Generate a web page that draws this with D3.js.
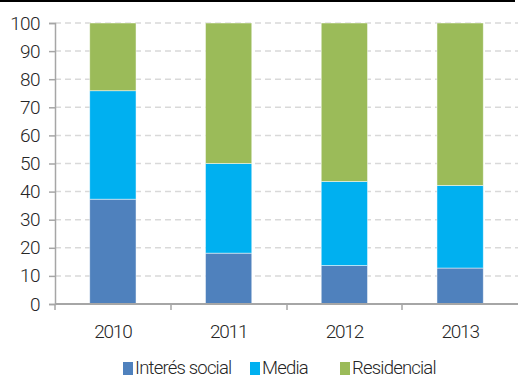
<!DOCTYPE html>
<html>
<head>
<meta charset="utf-8">
<script src="https://cdn.jsdelivr.net/npm/d3@7"></script>
<style>
body{margin:0;background:#fff;}
svg text{font-family:Roboto,sans-serif;font-weight:300;fill:#262626;}
</style>
</head>
<body>
<svg id="chart" width="518" height="379"></svg>
<script>
var years = ["2010", "2011", "2012", "2013"];
var series = ["Interés social", "Media", "Residencial"];
var colors = ["#4F81BD", "#00B0F0", "#9BBB59"];
var social = [37.3, 18.1, 13.7, 12.8];
var media = [38.6, 31.9, 29.9, 29.4];
var residencial = [24.1, 50.0, 56.4, 57.8];
var yTicks = [0, 10, 20, 30, 40, 50, 60, 70, 80, 90, 100];

var svg = d3.select("#chart");

var x = d3.scaleBand().domain(years).range([55, 518]).paddingInner(0.6).paddingOuter(0.3);
var xTicks = d3.scaleBand().domain(years).range([55, 518]);
var y = d3.scaleLinear().domain([0, 100]).range([304, 23]);

// top border line
svg.append("line")
	.attr("x1", 0).attr("x2", 515)
	.attr("y1", 1).attr("y2", 1)
	.style("stroke", "#000").style("stroke-width", 2);

// gridlines
svg.append("g").selectAll("line")
	.data(yTicks.slice(1))
	.enter().append("line")
	.attr("x1", 55).attr("x2", 518)
	.attr("y1", function(d){ return y(d); })
	.attr("y2", function(d){ return y(d); })
	.style("stroke", "#D9D9D9")
	.style("stroke-width", 1.5)
	.style("stroke-dasharray", "6,4");

// stacked data
var rows = years.map(function(yr, i){
	return {year: yr, "Interés social": social[i], "Media": media[i], "Residencial": residencial[i]};
});
var stacked = d3.stack().keys(series)(rows);

svg.append("g").selectAll("g")
	.data(stacked)
	.enter().append("g")
	.style("fill", function(d, i){ return colors[i]; })
	.selectAll("rect")
	.data(function(d){ return d; })
	.enter().append("rect")
	.attr("x", function(d){ return x(d.data.year); })
	.attr("y", function(d){ return y(d[1]); })
	.attr("width", x.bandwidth())
	.attr("height", function(d){ return y(d[0]) - y(d[1]); })
	.style("stroke", "#fff")
	.style("stroke-opacity", 0.6)
	.style("stroke-width", 0.8);

// y axis
var yAxis = svg.append("g")
	.attr("transform", "translate(55,0)")
	.call(d3.axisLeft(y).tickValues(yTicks).tickSize(6).tickPadding(9));
yAxis.select(".domain").style("stroke", "#A6A6A6").style("stroke-width", 1.5);
yAxis.selectAll(".tick line").style("stroke", "#A6A6A6").style("stroke-width", 1.5);
yAxis.selectAll("text")
	.style("font-size", "19px").attr("fill", "#262626")
	.style("font-family", "Roboto").style("font-weight", 300)
	.style("letter-spacing", "-0.6px");

// x axis
var xAxisG = svg.append("g").attr("transform", "translate(0,304)");
xAxisG.append("line")
	.attr("x1", 55).attr("x2", 518)
	.attr("y1", 0).attr("y2", 0)
	.style("stroke", "#A6A6A6").style("stroke-width", 2);
xAxisG.selectAll(".xt")
	.data(years)
	.enter().append("line")
	.attr("class", "xt")
	.attr("x1", function(d){ return Math.round(xTicks(d)); })
	.attr("x2", function(d){ return Math.round(xTicks(d)); })
	.attr("y1", 0).attr("y2", 6)
	.style("stroke", "#A6A6A6").style("stroke-width", 1.5);
xAxisG.selectAll("text")
	.data(years)
	.enter().append("text")
	.attr("x", function(d){ return x(d) + x.bandwidth() / 2; })
	.attr("y", 34)
	.attr("text-anchor", "middle")
	.style("font-size", "19px")
	.style("letter-spacing", "-1.2px")
	.text(function(d){ return d; });

// legend
var legendX = [123, 250, 340];
var legend = svg.append("g").selectAll("g")
	.data(series)
	.enter().append("g")
	.attr("transform", function(d, i){ return "translate(" + legendX[i] + ",0)"; });
legend.append("rect")
	.attr("x", 0).attr("y", 362)
	.attr("width", 10).attr("height", 13)
	.style("fill", function(d, i){ return colors[i]; });
legend.append("text")
	.attr("x", 12).attr("y", 374)
	.style("font-size", "18.5px")
	.style("letter-spacing", "-0.8px")
	.text(function(d){ return d; });
</script>
</body>
</html>
